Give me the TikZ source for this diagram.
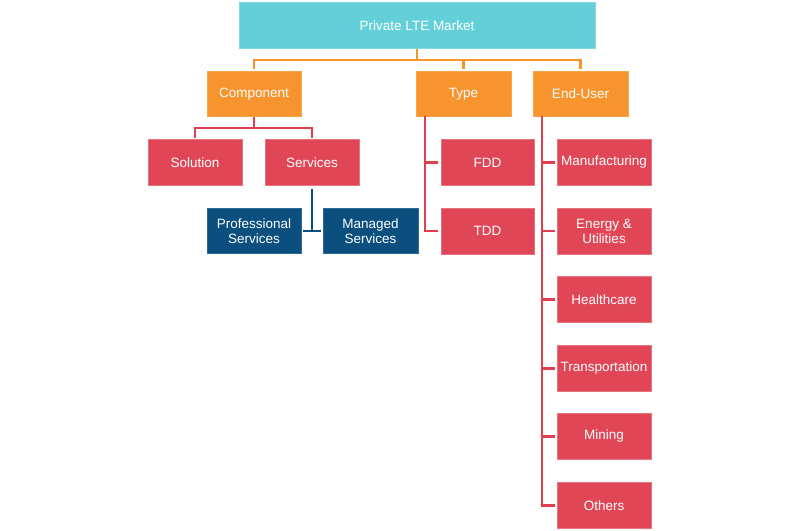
\documentclass[tikz,border=0pt]{standalone}
\usepackage{fontspec}
\setmainfont{Liberation Sans}
\usetikzlibrary{calc}
\definecolor{cyanbox}{RGB}{99,207,217}
\definecolor{orangebox}{RGB}{247,148,46}
\definecolor{redbox}{RGB}{224,70,86}
\definecolor{redline}{RGB}{226,62,80}
\definecolor{bluebox}{RGB}{10,79,125}
\tikzset{
  box/.style={rectangle, inner sep=1pt, text=white, align=center,
    font=\fontsize{13.5}{15}\selectfont, minimum height=45pt},
  topbox/.style={box, fill=cyanbox, draw=cyanbox!80!white, line width=0.6pt, minimum width=356pt, minimum height=46pt},
  l2box/.style={box, fill=orangebox, draw=orangebox!85!white, line width=0.6pt, minimum width=94pt},
  redb/.style={box, fill=redbox, draw=redbox!75!white, line width=0.6pt, minimum width=94pt, minimum height=46pt},
  blueb/.style={box, fill=bluebox, draw=bluebox!85!white, line width=0.6pt, minimum width=94pt},
  oline/.style={draw=orangebox, line width=2.4pt},
  rline/.style={draw=redline, line width=2.4pt},
  bline/.style={draw=bluebox, line width=2.4pt},
}
\begin{document}
\begin{tikzpicture}[x=1pt,y=-1pt]
\useasboundingbox (0,0) rectangle (800,530);
% nodes
\node[topbox] (top) at (417,25.5) {Private LTE Market};
\node[l2box] (comp) at (254,94) {Component};
\node[l2box, minimum width=95pt] (type) at (463.5,94) {Type};
\node[l2box, minimum width=95pt] (eu) at (580.5,94) {End-User};
\node[redb] (sol) at (195,162.5) {Solution};
\node[redb] (serv) at (312,162.5) {Services};
\node[blueb] (prof) at (254,231) {Professional\\Services};
\node[blueb, minimum width=95pt] (man) at (370.5,231) {Managed\\Services};
\node[redb, minimum width=93pt] (fdd) at (487.5,162.5) {FDD};
\node[redb, minimum width=93pt] (tdd) at (487.5,231) {TDD};
\node[redb] (mfg) at (604,162.5) {Manufacturing};
\node[redb] (ene) at (604,231) {Energy \&\\Utilities};
\node[redb] (hea) at (604,299.5) {Healthcare};
\node[redb] (tra) at (604,368.5) {Transportation};
\node[redb] (min) at (604,436.5) {Mining};
\node[redb] (oth) at (604,505.5) {Others};
% level 1 -> level 2
\coordinate (b1) at (417,60);
\draw[oline] (top.south) -- (b1);
\draw[oline, shorten >=2pt] (b1) -| (comp.north);
\draw[oline, shorten >=2pt] (b1) -| (type.north);
\draw[oline, shorten >=2pt] (b1) -| (eu.north);
% component
\coordinate (b2) at (254,128);
\draw[rline] (comp.south) -- (b2);
\draw[rline, shorten >=1.5pt] (b2) -| (sol.north);
\draw[rline, shorten >=1.5pt] (b2) -| (serv.north);
% services T
\coordinate (t) at (312,231);
\coordinate (tl) at (303,231);
\coordinate (tr) at (321,231);
\draw[bline, shorten <=3pt] (serv.south) -- (t);
\draw[bline] (tl) -- (tr);
% type
\coordinate (tv) at (425,116);
\draw[rline, shorten >=3pt] (tv) |- (fdd.west);
\draw[rline, shorten >=3pt] (tv) |- (tdd.west);
% end-user
\coordinate (ev) at (542,116);
\foreach \n in {mfg,ene,hea,tra,min,oth}{
  \draw[rline, shorten >=2pt] (ev) |- (\n.west);
}
\end{tikzpicture}
\end{document}
